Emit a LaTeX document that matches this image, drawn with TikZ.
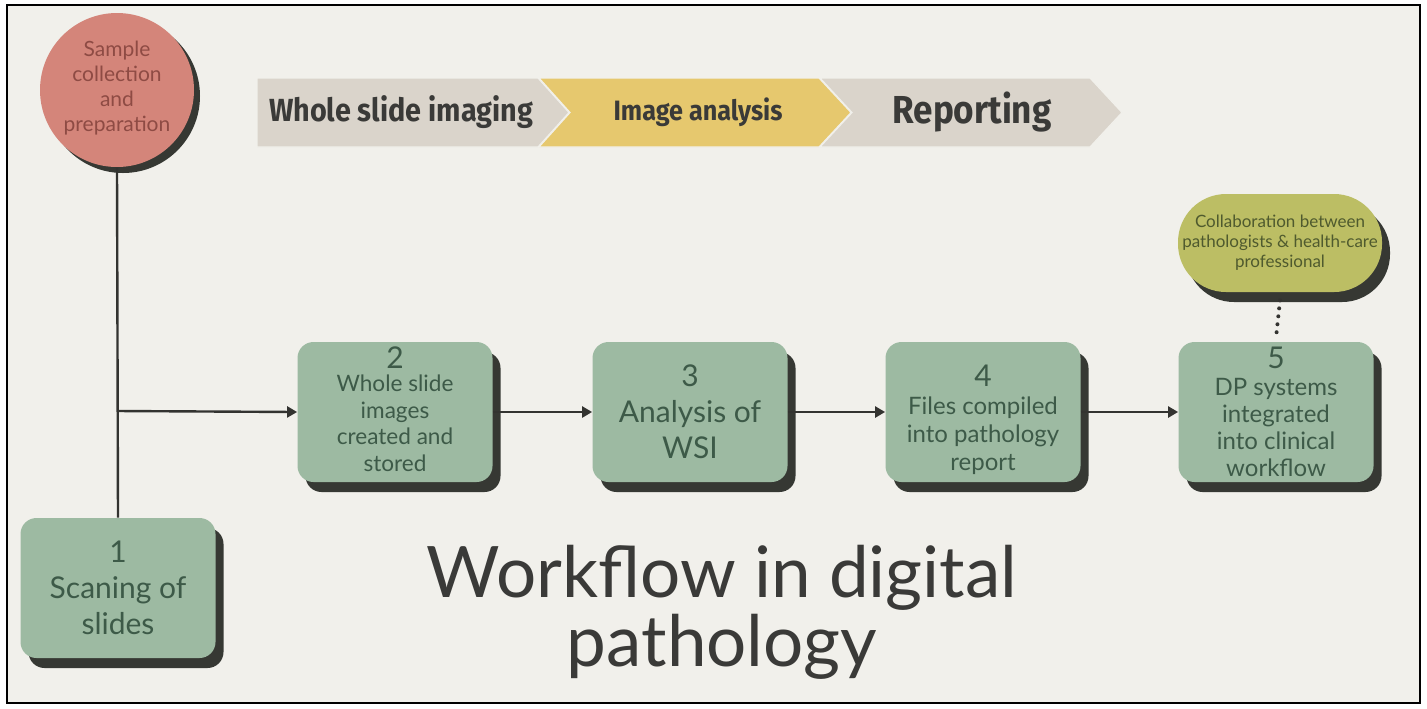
\documentclass[tikz,border=0pt]{standalone}
\usepackage{fontspec}
\setmainfont{Lato}
\newfontfamily\bannerfont{Fira Sans}
\usetikzlibrary{shadows,arrows.meta}

\definecolor{pagebg}{HTML}{F1F0EB}
\definecolor{boxfill}{HTML}{9DBAA2}
\definecolor{boxtext}{HTML}{3D5A48}
\definecolor{shadowc}{HTML}{363833}
\definecolor{circlefill}{HTML}{D4857A}
\definecolor{circletext}{HTML}{8E4B44}
\definecolor{pillfill}{HTML}{BCBE64}
\definecolor{pilltext}{HTML}{4F5A2E}
\definecolor{taupe}{HTML}{DAD4CB}
\definecolor{mustard}{HTML}{E6C86E}
\definecolor{inkdark}{HTML}{3A3A38}
\definecolor{linec}{HTML}{333330}

\tikzset{
  stepbox/.style={rectangle, rounded corners=8pt, fill=boxfill, text=boxtext,
    minimum width=97.5pt, minimum height=70pt, align=center, inner sep=0pt,
    general shadow={fill=shadowc, shadow xshift=4pt, shadow yshift=-5pt}},
  startcircle/.style={circle, fill=circlefill, text=circletext, minimum size=77pt,
    inner sep=0pt, align=center, font=\fontsize{10.5}{12.5}\selectfont,
    general shadow={fill=shadowc, shadow xshift=3pt, shadow yshift=-3pt}},
  pill/.style={rectangle, rounded corners=24pt, fill=pillfill, text=pilltext,
    minimum width=102pt, minimum height=49pt, inner sep=0pt, align=center,
    font=\fontsize{8.5}{10}\selectfont,
    general shadow={fill=shadowc, shadow xshift=4pt, shadow yshift=-5pt}},
  flow/.style={draw=linec, line width=1.2pt, -{Triangle[length=5pt,width=5.5pt]}},
  link/.style={draw=linec, line width=1.2pt},
  dotlink/.style={draw=linec, line width=2pt, line cap=round, dash pattern=on 0pt off 4pt},
  chevron/.style={draw=pagebg, line width=0.6pt},
  bannertext/.style={text=inkdark, inner sep=0pt},
}

\begin{document}
\begin{tikzpicture}[x=0.5pt, y=-0.5pt]
  % page and frame
  \useasboundingbox (0,0) rectangle (1427,708);
  \fill[white] (0,0) rectangle (1427,708);
  \fill[pagebg] (7,5) rectangle (1420,703);
  \draw[black, line width=0.8pt] (7,5) rectangle (1420,703);

  % phase banner
  \fill[taupe, chevron] (257,78) -- (538,78) -- (569,112.5) -- (538,147) -- (257,147) -- cycle;
  \fill[mustard, chevron] (539,78) -- (819,78) -- (851,112.5) -- (819,147) -- (539,147) -- (570,112.5) -- cycle;
  \fill[taupe, chevron] (820,78) -- (1090,78) -- (1122,112.5) -- (1090,147) -- (820,147) -- (852,112.5) -- cycle;
  \node[bannertext, font=\bannerfont\bfseries\fontsize{16}{18}\selectfont] (ph1) at (401,112) {\scalebox{0.9}[1]{Whole slide imaging}};
  \node[bannertext, font=\bannerfont\fontseries{sb}\fontsize{14}{16}\selectfont] (ph2) at (698,112) {\scalebox{0.9}[1]{Image analysis}};
  \node[bannertext, font=\bannerfont\bfseries\fontsize{19.5}{22}\selectfont] (ph3) at (972,112) {\scalebox{0.9}[1]{Reporting}};

  % workflow nodes
  \node[startcircle] (sc) at (117,90) {Sample\\collection\\and\\preparation\rule[-4pt]{0pt}{0pt}};
  \node[stepbox, font=\fontsize{15}{18}\selectfont] (s1) at (118,588) {1\\Scaning of\\slides};
  \node[stepbox, font=\fontsize{11.3}{13.2}\selectfont] (s2) at (395,412)
    {{\fontsize{15}{13.2}\selectfont 2}\\[-1.5pt]Whole slide\\images\\created and\\stored\rule[-3pt]{0pt}{0pt}};
  \node[stepbox, font=\fontsize{15}{18}\selectfont] (s3) at (690,412) {3\\Analysis of\\WSI};
  \node[stepbox, font=\fontsize{12}{14}\selectfont] (s4) at (983,412)
    {{\fontsize{15}{14}\selectfont\rule{0pt}{18.5pt}4}\\Files compiled\\into pathology\\report};
  \node[stepbox, font=\fontsize{12}{13.5}\selectfont] (s5) at (1276,412)
    {{\fontsize{15}{13.5}\selectfont 5}\\DP systems\\integrated\\into clinical\\workflow};
  \node[pill] (collab) at (1280,243) {Collaboration between\\pathologists \& health-care\\professional};

  % connectors
  \coordinate (junction) at (118,411);
  \draw[link] (sc.south) -- (s1.north);
  \draw[flow] (junction) -- (s2.west);
  \draw[flow] (s2.east) -- (s3.west);
  \draw[flow] (s3.east) -- (s4.west);
  \draw[flow] (s4.east) -- (s5.west);
  \draw[dotlink] ([yshift=-4pt]collab.south) -- ([yshift=2pt]s5.north);

  % title
  \node[text=inkdark, align=center, font=\fontsize{35.5}{34.5}\selectfont] (title) at (722,612)
    {Workflow in digital\\pathology};
\end{tikzpicture}
\end{document}
